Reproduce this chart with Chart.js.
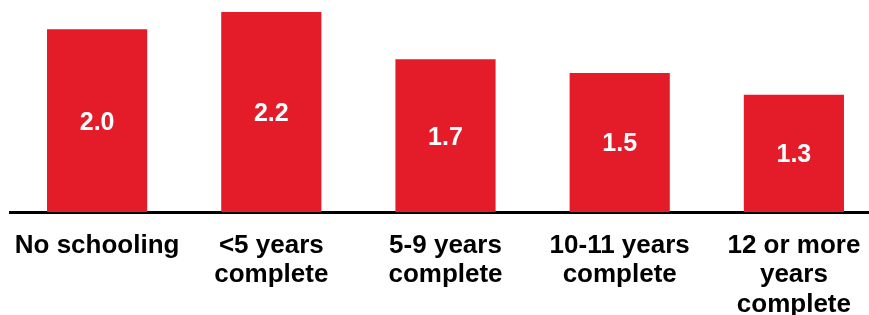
<!DOCTYPE html>
<html>
<head>
<meta charset="utf-8">
<script src="https://cdn.jsdelivr.net/npm/chart.js@4.4.1/dist/chart.umd.min.js"></script>
<style>
  html, body { margin: 0; padding: 0; background: #fff; overflow: hidden; }
  #wrap { position: relative; width: 885px; height: 315px; }
</style>
</head>
<body>
<div id="wrap"><canvas id="schoolChart"></canvas></div>
<script>
// ----------------------------------------------------
// data
// ----------------------------------------------------
const categories = [
    'No schooling',
    ['<5 years', 'complete'],
    ['5-9 years', 'complete'],
    ['10-11 years', 'complete'],
    ['12 or more', 'years', 'complete']
];
const values = [2.01, 2.2, 1.68, 1.53, 1.29];

const BAR_RED = '#E41B28';
const FONT_FAMILY = '"Liberation Sans", Arial, sans-serif';

// labels in the middle of each bar
const barValueLabels = {
    id: 'barValueLabels',
    afterDatasetsDraw(chart) {
        const ctx = chart.ctx;
        const meta = chart.getDatasetMeta(0);
        ctx.save();
        ctx.fillStyle = '#fff';
        ctx.font = 'bold 25px ' + FONT_FAMILY;
        ctx.textAlign = 'center';
        ctx.textBaseline = 'middle';
        meta.data.forEach((bar, i) => {
            const midY = (bar.y + bar.base) / 2;
            ctx.fillText(values[i].toFixed(1), bar.x, midY + 2);
        });
        ctx.restore();
    }
};

function renderChart() {
    const ctx = document.getElementById('schoolChart').getContext('2d');
    new Chart(ctx, {
        type: 'bar',
        data: {
            labels: categories,
            datasets: [{
                data: values,
                backgroundColor: BAR_RED,
                borderWidth: 0,
                barPercentage: 0.575,
                categoryPercentage: 1
            }]
        },
        options: {
            responsive: true,
            maintainAspectRatio: false,
            animation: false,
            layout: { padding: { left: 10, right: 4, top: 12, bottom: 0 } },
            plugins: { legend: { display: false }, tooltip: { enabled: false } },
            scales: {
                x: {
                    grid: { display: false },
                    border: { display: true, color: '#000', width: 3 },
                    ticks: {
                        color: '#000',
                        font: { family: FONT_FAMILY, size: 26, weight: 'bold', lineHeight: 1.13 },
                        padding: 11,
                        maxRotation: 0,
                        autoSkip: false
                    },
                    afterFit: (axis) => { axis.height = 103; }
                },
                y: {
                    display: false,
                    min: 0,
                    max: 2.2
                }
            }
        },
        plugins: [barValueLabels]
    });
}

document.addEventListener('DOMContentLoaded', renderChart);
</script>
</body>
</html>
